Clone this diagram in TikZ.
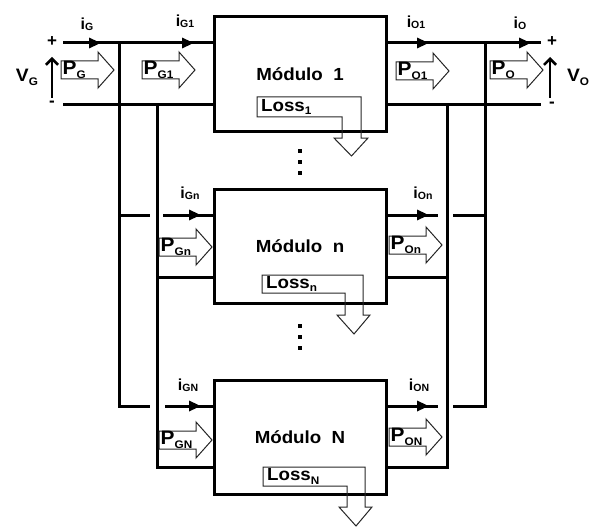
\documentclass[tikz,border=0pt]{standalone}
\usepackage{fontspec}
\setmainfont{Liberation Sans}
\newfontfamily\wide[FakeStretch=1.07]{Liberation Sans}
\usetikzlibrary{arrows.meta}
\newcommand\sbx[1]{\raisebox{-0.4ex}{\fontsize{11}{12}\selectfont #1}}
\newcommand\sbi[1]{\raisebox{-0.15ex}{\fontsize{10.5}{11}\selectfont #1}}
\newcommand\parrow[4]{%
  \draw[outl] (#2,#3-9) -- (#2+37,#3-9) -- (#2+37,#3-18) -- (#2+53,#3) -- (#2+37,#3+18) -- (#2+37,#3+9) -- (#2,#3+9) -- cycle;
  \node[ptxt] (#1) at (#2,#3) {#4};}
\newcommand\lossarrow[9]{%
  \draw[outl] (#2,#3) -- (#6,#3) -- (#6,#7) -- (#6+7,#7) -- ({(#5+#6)/2},#8) -- (#5-8,#7) -- (#5,#7) -- (#5,#4) -- (#2,#4) -- cycle;
  \node[ltxt] (#1) at (#2,{(#3+#4)/2}) {#9};}
\begin{document}
\begin{tikzpicture}[x=1pt,y=-1pt,
  wire/.style={line width=3pt},
  cur/.style={wire,-{Triangle[length=12pt,width=10pt]}},
  varr/.style={line width=2.6pt,-{Straight Barb[length=6pt,width=12pt]}},
  module/.style={draw,line width=3pt,minimum width=172pt,minimum height=114pt,inner sep=0pt,
    font=\wide\bfseries\fontsize{17.5}{18}\selectfont},
  outl/.style={draw=black!85,line width=1pt},
  ptxt/.style={anchor=west,inner sep=1.5pt,font=\wide\bfseries\fontsize{19.5}{20}\selectfont},
  ltxt/.style={anchor=west,inner sep=4pt,font=\wide\bfseries\fontsize{17.5}{18}\selectfont},
  lbl/.style={inner sep=0pt,font=\bfseries\fontsize{16}{17}\selectfont},
  big/.style={inner sep=0pt,font=\wide\bfseries\fontsize{18}{19}\selectfont},
  sign/.style={inner sep=0pt,font=\bfseries\fontsize{17}{18}\selectfont},
  dot/.style={fill,minimum size=4.5pt,inner sep=0pt}]
\useasboundingbox (0,0) rectangle (595,527);
% modules
\node[module] (m1) at (300,74) {Módulo\ \ 1};
\node[module] (mn) at (300,246) {Módulo\ \ n};
\node[module] (mN) at (300,437.5) {Módulo\ \ N};
% terminals and bus points
\coordinate (gp) at (63,43);
\coordinate (gm) at (63,105);
\coordinate (op) at (541,43);
\coordinate (om) at (541,105);
\coordinate (aT) at (119,43);  \coordinate (aB) at (119,406);
\coordinate (bT) at (157,105); \coordinate (bB) at (157,467);
\coordinate (cT) at (447,105); \coordinate (cB) at (447,467);
\coordinate (dT) at (485,43);  \coordinate (dB) at (485,406);
\coordinate (an) at (119,215); \coordinate (anE) at (150,215);
\coordinate (ni) at (163,215); \coordinate (no) at (438,215);
\coordinate (dnW) at (453,215); \coordinate (dn) at (485,215);
\coordinate (bn) at (157,277); \coordinate (cn) at (447,277);
\coordinate (aNE) at (150,406); \coordinate (Ni) at (165,406);
\coordinate (No) at (438,406); \coordinate (dNW) at (453,406);
% bus wires
\draw[wire] (gp) -- (m1.west |- gp);
\draw[wire] (gm) -- (m1.west |- gm);
\draw[wire] (m1.east |- op) -- (op);
\draw[wire] (m1.east |- om) -- (om);
\draw[wire] (aT) -- (aB) -- (aNE);
\draw[wire] (bT) -- (bB) -- (mN.west |- bB);
\draw[wire] (cT) -- (cB) -- (mN.east |- cB);
\draw[wire] (dT) -- (dB) -- (dNW);
% module n
\draw[wire] (an) -- (anE);
\draw[wire] (ni) -- (mn.west |- ni);
\draw[wire] (mn.east |- no) -- (no);
\draw[wire] (dnW) -- (dn);
\draw[wire] (bn) -- (mn.west |- bn);
\draw[wire] (mn.east |- cn) -- (cn);
% module N
\draw[wire] (Ni) -- (mN.west |- Ni);
\draw[wire] (mN.east |- No) -- (No);
% current arrows
\draw[cur] (gp) -- (101,43);
\draw[cur] (aT) -- (194,43);
\draw[cur] (m1.east |- op) -- (429,43);
\draw[cur] (dT) -- (531,43);
\draw[cur] (ni) -- (201,215);
\draw[cur] (mn.east |- no) -- (429,215);
\draw[cur] (Ni) -- (201,406);
\draw[cur] (mN.east |- No) -- (429,406);
% current labels
\node[lbl] (iG) at (87,24) {i\sbi{G}};
\node[lbl] (iG1) at (185,21) {i\sbi{G1}};
\node[lbl] (iO1) at (416,22) {i\sbi{O1}};
\node[lbl] (iO) at (520,23) {i\sbi{O}};
\node[lbl] (iGn) at (190,193) {i\sbi{Gn}};
\node[lbl] (iOn) at (423,193) {i\sbi{On}};
\node[lbl] (iGN) at (188,385) {i\sbi{GN}};
\node[lbl] (iON) at (419,385) {i\sbi{ON}};
% voltages
\coordinate (vgb) at (52,98); \coordinate (vgt) at (52,57);
\coordinate (vob) at (550,98); \coordinate (vot) at (550,57);
\draw[varr] (vgb) -- (vgt);
\draw[varr] (vob) -- (vot);
\node[big] (VG) at (27,77) {V\sbx{G}};
\node[big] (VO) at (578,77) {V\sbx{O}};
\node[sign] (sgp) at (52,42) {+};
\node[sign] (sgm) at (52,104) {-};
\node[sign] (sop) at (552,42) {+};
\node[sign] (som) at (552,105) {-};
% power arrows
\parrow{pg}{61}{70}{P\sbx{G}}
\parrow{pg1}{142}{70}{P\sbx{G1}}
\parrow{po1}{396}{71}{P\sbx{O1}}
\parrow{po}{490}{70}{P\sbx{O}}
\parrow{pgn}{159}{247}{P\sbx{Gn}}
\parrow{pon}{389}{245}{P\sbx{On}}
\parrow{pgN}{159}{440}{P\sbx{GN}}
\parrow{poN}{389}{437}{P\sbx{ON}}
% loss arrows
\lossarrow{l1}{257}{97}{117}{342}{361}{138}{156}{Loss\sbx{1}}
\lossarrow{ln}{262}{275}{293}{345}{363}{315}{334}{Loss\sbx{n}}
\lossarrow{lN}{263}{467}{486}{347}{365}{507}{526}{Loss\sbx{N}}
% dots
\node[dot] (d1) at (300,151) {};
\node[dot] (d2) at (300,162) {};
\node[dot] (d3) at (300,173) {};
\node[dot] (d4) at (300,326) {};
\node[dot] (d5) at (300,337) {};
\node[dot] (d6) at (300,348) {};
\end{tikzpicture}
\end{document}
